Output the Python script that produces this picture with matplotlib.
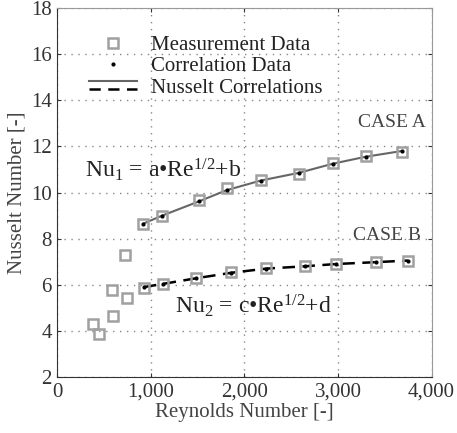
import matplotlib
matplotlib.use("Agg")
import matplotlib.pyplot as plt
from matplotlib.lines import Line2D
from matplotlib.legend_handler import HandlerBase

plt.rcParams['font.family'] = ['Liberation Serif', 'DejaVu Serif']
plt.rcParams['mathtext.fontset'] = 'custom'
plt.rcParams['mathtext.rm'] = 'Liberation Serif'
plt.rcParams['mathtext.it'] = 'Liberation Serif'

# Case A (upper branch)
re_a = [918, 1121, 1516, 1808, 2175, 2578, 2945, 3294, 3682]
nu_a_meas = [8.62, 8.98, 9.68, 10.18, 10.54, 10.79, 11.27, 11.60, 11.77]
nu_a_corr = [8.65, 9.00, 9.62, 10.10, 10.52, 10.85, 11.25, 11.55, 11.80]

# Case B (lower branch)
re_b = [925, 1131, 1481, 1858, 2232, 2642, 2980, 3404, 3746]
nu_b_meas = [5.87, 6.03, 6.31, 6.57, 6.74, 6.81, 6.91, 6.97, 7.04]
nu_b_corr = [5.90, 6.04, 6.28, 6.52, 6.70, 6.80, 6.90, 6.98, 7.05]

# low Reynolds measurements (no correlation)
re_low = [384, 441, 583, 597, 726, 744]
nu_low = [4.28, 3.86, 5.76, 4.66, 7.29, 5.44]

xticks = [0, 1000, 2000, 3000, 4000]
xticklabels = ["0", "1,000", "2,000", "3,000", "4,000"]
yticks = [2, 4, 6, 8, 10, 12, 14, 16, 18]

SQ = dict(marker='s', ls='none', mfc='none', mec='#a0a0a0', mew=1.8, ms=7)
DOT = dict(marker='o', ls='none', color='black', ms=2)


class StackedLines(HandlerBase):
    # solid grey line above a dashed black one
    def create_artists(self, legend, orig_handle, xdescent, ydescent,
                       width, height, fontsize, trans):
        y = height / 2 - ydescent
        l1 = Line2D([-xdescent, width - xdescent], [y + 3.5, y + 3.5],
                    color='#666666', lw=1.5, transform=trans)
        l2 = Line2D([-xdescent, width - xdescent], [y - 2.5, y - 2.5],
                    color='black', lw=1.8, ls=(0, (4.5, 3)), transform=trans)
        return [l1, l2]


class Both:
    pass


fig = plt.figure(figsize=(4.57, 4.33), dpi=100)
ax = fig.add_axes([0.1256, 0.1293, 0.8188, 0.8522])

ax.plot(re_a, nu_a_corr, color='#666666', lw=1.5)
ax.plot(re_b, nu_b_corr, color='black', lw=1.8, ls=(0, (5, 3)))
ax.plot(re_a + re_b + re_low, nu_a_meas + nu_b_meas + nu_low, **SQ)
ax.plot(re_a + re_b, nu_a_corr + nu_b_corr, **DOT)

ax.set_xlim(0, 4000)
ax.set_ylim(2, 18)
ax.set_xticks(xticks)
ax.set_xticklabels(xticklabels)
ax.set_yticks(yticks)
ax.grid(True, ls=(0, (1, 4)), color='#888888', lw=1)
ax.tick_params(direction='in', length=3, labelsize=15, colors='#333333',
               top=True, right=True, pad=4)
ax.set_xlabel("Reynolds Number [-]", fontsize=15, color='#444444', labelpad=1)
ax.set_ylabel("Nusselt Number [-]", fontsize=15, color='#444444', labelpad=3)
for s in ['left', 'bottom']:
    ax.spines[s].set_color('#333333')
for s in ['top', 'right']:
    ax.spines[s].set_color('#999999')

ax.text(3575, 13.05, "CASE A", fontsize=14, color='#444444', ha='center', va='center')
ax.text(3520, 8.15, "CASE B", fontsize=14, color='#444444', ha='center', va='center')
ax.text(300, 11.0, r"Nu$_1$ = a•Re$^{1/2}$+b", fontsize=17, color='#222222',
        ha='left', va='center')
ax.text(1260, 5.1, r"Nu$_2$ = c•Re$^{1/2}$+d", fontsize=17, color='#222222',
        ha='left', va='center')

h_meas = Line2D([], [], **SQ)
h_corr = Line2D([], [], **DOT)
h_line = Both()
ax.legend([h_meas, h_corr, h_line],
          ["Measurement Data", "Correlation Data", "Nusselt Correlations"],
          handler_map={Both: StackedLines()}, numpoints=1,
          loc='upper left', bbox_to_anchor=(0.034, 0.977), frameon=False,
          fontsize=15, handlelength=2.3, handletextpad=0.7, labelspacing=0.1,
          labelcolor='#222222')

fig.savefig("out.png", dpi=100)
